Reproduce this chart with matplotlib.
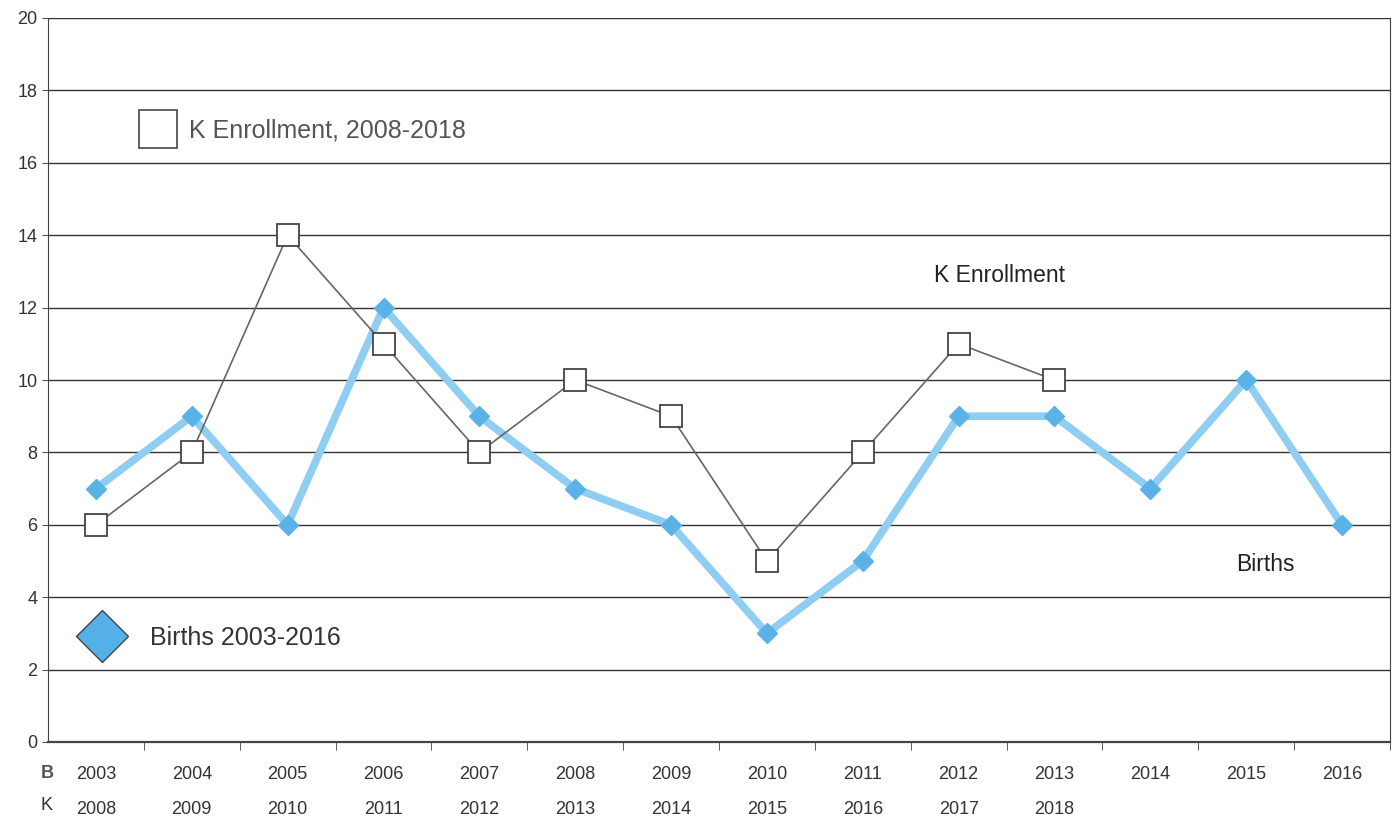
import matplotlib.pyplot as plt
from matplotlib.lines import Line2D

birth_years = ['2003', '2004', '2005', '2006', '2007', '2008', '2009',
               '2010', '2011', '2012', '2013', '2014', '2015', '2016']
k_years = ['2008', '2009', '2010', '2011', '2012', '2013', '2014',
           '2015', '2016', '2017', '2018']
births = [7, 9, 6, 12, 9, 7, 6, 3, 5, 9, 9, 7, 10, 6]
k_enroll = [6, 8, 14, 11, 8, 10, 9, 5, 8, 11, 10]

plt.rcParams['font.family'] = ['Liberation Sans', 'DejaVu Sans']

fig = plt.figure(figsize=(13.95, 8.33), dpi=100)
ax = fig.add_axes([48 / 1395, 1 - 742 / 833, 1342 / 1395, 724 / 833])

xb = list(range(len(births)))
xk = list(range(len(k_enroll)))

# births: thick light blue line with diamonds
ax.plot(xb, births, color='#8fcdf2', lw=5.5, zorder=3,
        marker='D', markersize=10, markerfacecolor='#5ab2e6',
        markeredgecolor='#5ab2e6', solid_joinstyle='miter')
# kindergarten enrollment: thin grey line with open squares
ax.plot(xk, k_enroll, color='#666666', lw=1.2, zorder=4,
        marker='s', markersize=16, markerfacecolor='white',
        markeredgecolor='#444444', markeredgewidth=1.3)

ax.set_xlim(-0.5, len(births) - 0.5)
ax.set_ylim(0, 20)
ax.set_yticks(range(0, 21, 2))
ax.yaxis.grid(True, color='#333333', lw=1)
ax.set_axisbelow(True)
ax.tick_params(axis='y', labelsize=13, length=4, color='#555555',
               labelcolor='#333333')

labels = []
for i, b in enumerate(birth_years):
    labels.append(b + '\n' + k_years[i] if i < len(k_years) else b + '\n ')
ax.set_xticks(xb)
ax.set_xticklabels(labels)
for t in ax.get_xticklabels():
    t.set_linespacing(2.45)
ax.tick_params(axis='x', which='major', length=0, pad=17, labelsize=13,
               labelcolor='#333333')
ax.set_xticks([i + 0.5 for i in xb], minor=True)
ax.tick_params(axis='x', which='minor', length=6, color='#444444')

for side in ['left', 'right', 'bottom']:
    ax.spines[side].set_color('#444444')
ax.spines['bottom'].set_linewidth(1.6)
ax.spines['top'].set_visible(False)

fig.text(47 / 1395, 1 - 773 / 833, 'B', ha='center', va='center',
         fontsize=13, color='#555555', fontweight='bold')
fig.text(47 / 1395, 1 - 806 / 833, 'K', ha='center', va='center',
         fontsize=13, color='#333333')

ax.text(9.43, 12.9, 'K Enrollment', ha='center', va='center',
        fontsize=16.5, color='#222222')
ax.text(12.2, 4.9, 'Births', ha='center', va='center',
        fontsize=16.5, color='#222222')

h1 = Line2D([], [], ls='none', marker='s', markersize=27,
            markerfacecolor='white', markeredgecolor='#555555',
            markeredgewidth=1.3)
h2 = Line2D([], [], ls='none', marker='D', markersize=26,
            markerfacecolor='#55b0e8', markeredgecolor='#444444',
            markeredgewidth=1)
leg1 = ax.legend([h1], ['K Enrollment, 2008-2018'], loc='center left',
                 bbox_to_anchor=(0.068, 0.844), frameon=False, fontsize=18,
                 borderpad=0, borderaxespad=0, handlelength=1.5,
                 handletextpad=0.5, labelcolor='#555555')
ax.add_artist(leg1)
ax.legend([h2], ['Births 2003-2016'], loc='center left',
          bbox_to_anchor=(0.026, 0.144), frameon=False, fontsize=18,
          borderpad=0, borderaxespad=0, handlelength=1.5,
          handletextpad=1.2, labelcolor='#333333')

plt.savefig('out.png', dpi=100)
